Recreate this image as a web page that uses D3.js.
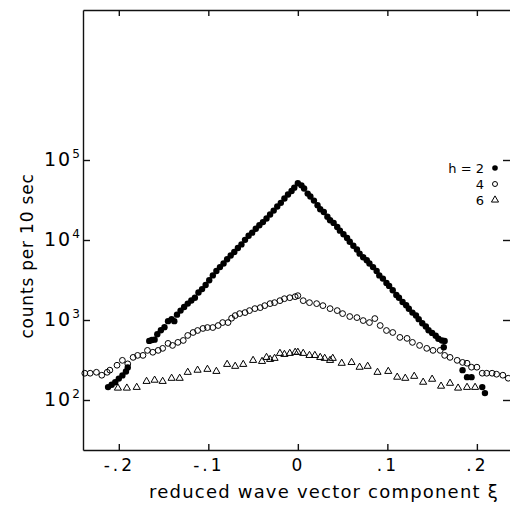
<!DOCTYPE html>
<html>
<head>
<meta charset="utf-8">
<script src="https://cdn.jsdelivr.net/npm/d3@7"></script>
<style>
  body { margin: 0; background: #fff; }
  text { font-family: "DejaVu Sans", sans-serif; fill: #000; }
</style>
</head>
<body>
<div id="chart"></div>
<script>

// reduced wave vector component xi, counts per 10 sec
const h2Points = [
    [-0.212, 145], [-0.208, 155], [-0.204, 167], [-0.200, 185], [-0.196, 203], [-0.192, 227], [-0.190, 255],
    [-0.166, 548], [-0.163, 562], [-0.160, 568], [-0.157, 663], [-0.153, 745], [-0.149, 814], [-0.145, 967],
    [-0.141, 1024], [-0.138, 967], [-0.135, 1166], [-0.131, 1311], [-0.127, 1456], [-0.123, 1604], [-0.119, 1751],
    [-0.115, 1901], [-0.111, 2204], [-0.107, 2434], [-0.103, 2744], [-0.099, 3135], [-0.095, 3611], [-0.091, 4095],
    [-0.087, 4582], [-0.083, 5076], [-0.079, 5740], [-0.075, 6411], [-0.071, 7091], [-0.067, 7947], [-0.063, 8812],
    [-0.059, 10040], [-0.055, 11280], [-0.051, 12350], [-0.047, 13800], [-0.043, 15260], [-0.039, 16740],
    [-0.035, 18600], [-0.031, 20860], [-0.027, 23320], [-0.023, 26210], [-0.019, 29130], [-0.015, 33060],
    [-0.011, 37030], [-0.007, 41050], [-0.004, 45100], [0.000, 51260],
    [0.004, 48180], [0.007, 44100], [0.011, 38030], [0.014, 35040], [0.018, 31090], [0.022, 27180], [0.025, 24280],
    [0.029, 22370], [0.033, 19540], [0.036, 17670], [0.040, 16360], [0.044, 14530], [0.047, 13080], [0.051, 11820],
    [0.055, 10570], [0.058, 9512], [0.062, 8467], [0.066, 7603], [0.069, 6750], [0.073, 6074], [0.077, 5573],
    [0.080, 5076], [0.084, 4582], [0.088, 4095], [0.091, 3611], [0.095, 3293], [0.099, 2900], [0.102, 2667],
    [0.106, 2357], [0.110, 2052], [0.113, 1901], [0.117, 1677], [0.121, 1530], [0.124, 1383], [0.128, 1238],
    [0.132, 1138], [0.135, 1024], [0.139, 911], [0.143, 828], [0.146, 745], [0.150, 690], [0.154, 636],
    [0.157, 582], [0.161, 555], [0.164, 548], [0.163, 456],
    [0.184, 236], [0.189, 193], [0.194, 193], [0.206, 145], [0.209, 122]
]

const h4Points = [
    [-0.238, 216], [-0.232, 216], [-0.225, 222], [-0.219, 204], [-0.213, 222], [-0.210, 236], [-0.202, 272],
    [-0.196, 313], [-0.190, 283], [-0.184, 341], [-0.179, 361], [-0.173, 361], [-0.168, 417], [-0.162, 395],
    [-0.156, 417], [-0.151, 442], [-0.145, 510], [-0.140, 481], [-0.134, 525], [-0.128, 555], [-0.123, 641],
    [-0.117, 698], [-0.112, 739], [-0.106, 784], [-0.101, 805], [-0.095, 805], [-0.089, 853], [-0.084, 929],
    [-0.078, 929], [-0.074, 1052], [-0.070, 1136], [-0.065, 1202], [-0.059, 1238], [-0.054, 1311], [-0.048, 1388],
    [-0.042, 1428], [-0.037, 1512], [-0.031, 1602], [-0.026, 1648], [-0.020, 1745], [-0.015, 1846],
    [-0.009, 1900], [-0.003, 1956], [0.000, 2014],
    [0.006, 1745], [0.013, 1648], [0.021, 1602], [0.028, 1512], [0.036, 1388], [0.044, 1311], [0.050, 1202],
    [0.058, 1105], [0.066, 1072], [0.073, 984], [0.080, 929], [0.086, 1042], [0.092, 853], [0.099, 739],
    [0.106, 698], [0.114, 606], [0.122, 589], [0.128, 525], [0.136, 481], [0.144, 442], [0.151, 417],
    [0.159, 417], [0.164, 361], [0.170, 341], [0.178, 313], [0.184, 295], [0.189, 288], [0.194, 257],
    [0.200, 257], [0.206, 216], [0.211, 216], [0.217, 216], [0.222, 210], [0.229, 204], [0.235, 187]
]

const h6Points = [
    [-0.201, 141], [-0.191, 141], [-0.180, 144], [-0.169, 171], [-0.160, 177], [-0.151, 171], [-0.141, 187],
    [-0.132, 187], [-0.123, 222], [-0.112, 236], [-0.101, 242], [-0.091, 228], [-0.079, 279], [-0.070, 264],
    [-0.061, 279], [-0.050, 313], [-0.040, 304], [-0.035, 341], [-0.031, 322], [-0.026, 332], [-0.020, 383],
    [-0.015, 372], [-0.009, 383], [-0.003, 395], [0.000, 395],
    [0.006, 383], [0.013, 361], [0.019, 361], [0.025, 341], [0.030, 332], [0.036, 313], [0.039, 332],
    [0.049, 288], [0.060, 295], [0.069, 257], [0.078, 264], [0.089, 222], [0.101, 228], [0.111, 193],
    [0.120, 187], [0.130, 198], [0.140, 167], [0.150, 182], [0.160, 149], [0.170, 162], [0.179, 141],
    [0.189, 144], [0.198, 144]
]

const xTicks = [-0.2, -0.1, 0, 0.1, 0.2]
const xTickLabels = ["-.2", "-.1", "0", ".1", ".2"]
const yTickExponents = [2, 3, 4, 5]
const legendLabels = ["h = 2", "4", "6"]

const width = 510
const height = 512
const margin = ({ top: 10, right: 0, bottom: 62, left: 83 })

const x = d3.scaleLinear()
    .domain([-0.24, 0.237])
    .range([margin.left, width - margin.right])

const y = d3.scaleLog()
    .domain([23.71, 7.5e6])
    .range([height - margin.bottom, margin.top])

const yTicks = yTickExponents.map(e => Math.pow(10, e))

const svg = d3.select("#chart")
    .append("svg")
    .style("display", "block")
    .attr("width", width)
    .attr("height", height)

const axisStyle = g => {
    g.selectAll("path, line").attr("stroke", "#111").attr("stroke-width", 1.4)
    g.selectAll("text").attr("font-family", "DejaVu Sans").attr("font-size", 17).attr("fill", "#000")
}

// bottom
svg.append("g")
    .attr("transform", `translate(0,${height - margin.bottom})`)
    .call(d3.axisBottom(x).tickValues(xTicks).tickSizeInner(-6).tickSizeOuter(0).tickPadding(9)
        .tickFormat((d, i) => xTickLabels[i]))
    .call(axisStyle)
    .call(g => g.selectAll("text").attr("letter-spacing", 3))

// top
svg.append("g")
    .attr("transform", `translate(0,${margin.top})`)
    .call(d3.axisTop(x).tickValues(xTicks).tickSizeInner(-6).tickSizeOuter(0).tickFormat(""))
    .call(axisStyle)

// left
svg.append("g")
    .attr("transform", `translate(${margin.left},0)`)
    .call(d3.axisLeft(y).tickValues(yTicks).tickSizeInner(-7).tickSizeOuter(0).tickFormat(""))
    .call(axisStyle)

// right, ticks only
svg.append("g")
    .attr("transform", `translate(${width - margin.right},0)`)
    .call(d3.axisRight(y).tickValues(yTicks).tickSizeInner(-7).tickSizeOuter(0).tickFormat(""))
    .call(axisStyle)
    .call(g => g.select(".domain").remove())

const yLabels = svg.append("g")
    .selectAll("text")
    .data(yTickExponents)
    .join("text")
    .attr("x", 44)
    .attr("y", d => y(Math.pow(10, d)) + 6)
    .attr("font-size", 19)
    .attr("letter-spacing", 2)

yLabels.append("tspan").text("10")
yLabels.append("tspan")
    .attr("font-size", 12)
    .attr("dx", 0)
    .attr("dy", -8)
    .text(d => d)

// data
svg.append("g")
    .selectAll("circle")
    .data(h2Points)
    .join("circle")
    .attr("cx", d => x(d[0]))
    .attr("cy", d => y(d[1]))
    .attr("r", 3.2)
    .attr("fill", "#000")

svg.append("g")
    .selectAll("circle")
    .data(h4Points)
    .join("circle")
    .attr("cx", d => x(d[0]))
    .attr("cy", d => y(d[1]))
    .attr("r", 2.9)
    .attr("fill", "none")
    .attr("stroke", "#000")
    .attr("stroke-width", 1)

const triangle = d3.symbol().type(d3.symbolTriangle).size(22)

svg.append("g")
    .selectAll("path")
    .data(h6Points)
    .join("path")
    .attr("transform", d => `translate(${x(d[0])},${y(d[1])})`)
    .attr("d", triangle)
    .attr("fill", "none")
    .attr("stroke", "#000")
    .attr("stroke-width", 1)

// legend
const legend = svg.append("g")
    .selectAll("g")
    .data(legendLabels)
    .join("g")
    .attr("transform", (d, i) => `translate(0,${168 + i * 16})`)

legend.append("text")
    .attr("x", 484)
    .attr("y", 5)
    .attr("text-anchor", "end")
    .attr("font-size", 13)
    .text(d => d)

legend.each(function (d, i) {
    const g = d3.select(this)
    if (i === 0) g.append("circle").attr("cx", 495).attr("r", 2.8).attr("fill", "#000")
    if (i === 1) g.append("circle").attr("cx", 495).attr("r", 2.5).attr("fill", "none").attr("stroke", "#000")
    if (i === 2) g.append("path").attr("transform", "translate(495,0)").attr("d", triangle)
        .attr("fill", "none").attr("stroke", "#000")
})

// axis titles
svg.append("text")
    .attr("x", 324)
    .attr("y", 498)
    .attr("text-anchor", "middle")
    .attr("font-size", 18)
    .attr("letter-spacing", 1.2)
    .text("reduced wave vector component ξ")

svg.append("text")
    .attr("transform", "translate(33,256) rotate(-90)")
    .attr("text-anchor", "middle")
    .attr("font-size", 17)
    .attr("letter-spacing", 0.8)
    .text("counts per 10 sec")

</script>
</body>
</html>
